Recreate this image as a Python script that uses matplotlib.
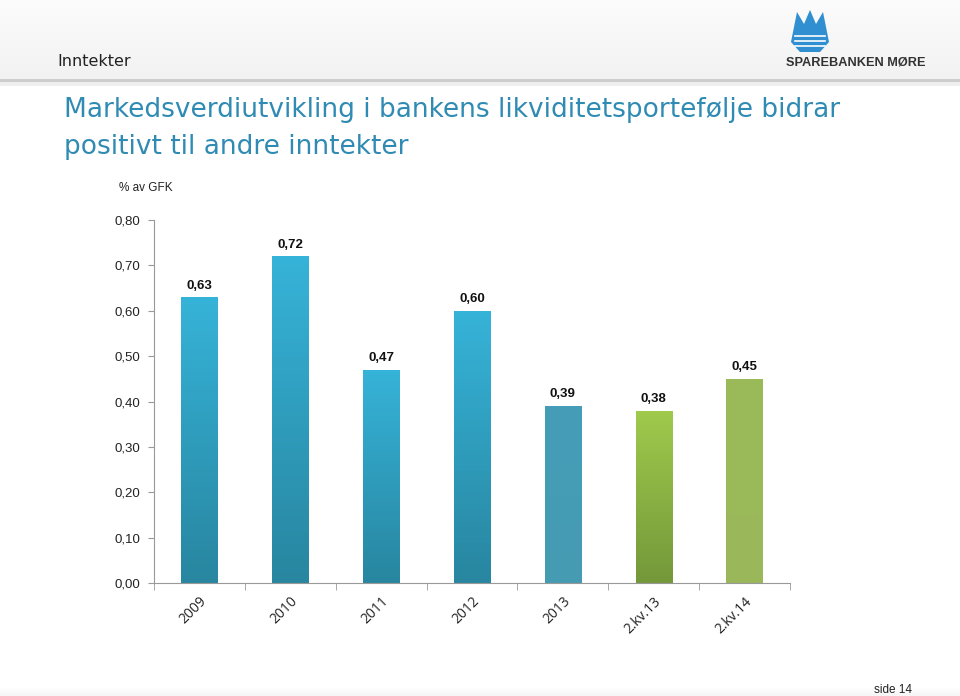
import numpy as np
import matplotlib
matplotlib.use("Agg")
import matplotlib.pyplot as plt
from matplotlib.patches import Polygon, Rectangle
from matplotlib.ticker import FixedLocator

# data
categories = ["2009", "2010", "2011", "2012", "2013", "2.kv.13", "2.kv.14"]
values = [0.63, 0.72, 0.47, 0.60, 0.39, 0.38, 0.45]
value_labels = ["0,63", "0,72", "0,47", "0,60", "0,39", "0,38", "0,45"]
ytick_values = [0.0, 0.1, 0.2, 0.3, 0.4, 0.5, 0.6, 0.7, 0.8]

# top / bottom colour of each bar's gradient
bar_top = ["#36b3d8", "#36b3d8", "#36b3d8", "#36b3d8", "#449db8", "#9fca4c", "#9bbb59"]
bar_bottom = ["#2886a0", "#2886a0", "#2886a0", "#2886a0", "#459bb2", "#74983a", "#9ab85a"]

plt.rcParams['font.family'] = ['Liberation Sans', 'DejaVu Sans']

W, H = 960, 696
fig = plt.figure(figsize=(W / 100, H / 100), dpi=100)
fig.patch.set_facecolor("white")

# header band with soft grey gradient
bg = fig.add_axes([0, 0, 1, 1], zorder=-10)
bg.set_xlim(0, W)
bg.set_ylim(H, 0)
bg.axis("off")
grad = np.linspace(0, 1, 80).reshape(-1, 1)
bg.imshow(grad, extent=(0, W, 80, 0), cmap=matplotlib.colors.LinearSegmentedColormap.from_list(
    "hdr", ["#fcfcfc", "#f2f2f2"]), aspect="auto")
bg.add_patch(Rectangle((0, 79), W, 3, color="#cdcdcd", lw=0))
bg.add_patch(Rectangle((0, 82), W, 4, color="#efefef", lw=0))
bg.imshow(np.linspace(0, 1, 10).reshape(-1, 1), extent=(0, W, 696, 686),
          cmap=matplotlib.colors.LinearSegmentedColormap.from_list("ftr", ["#ffffff", "#f6f6f6"]),
          aspect="auto")

fig.text(57 / W, 1 - 62 / H, "Inntekter", fontsize=11.5, color="#222222", va="center",
         family=['DejaVu Sans'])

# logo: simple mountain mark and bank name
logo = Polygon([(791, 42), (797, 12), (804, 24), (810, 10), (816, 24), (823, 12), (829, 42),
                (820, 52), (800, 52)], closed=True, color="#2f8fd0", lw=0)
bg.add_patch(logo)
for yy in (36, 41, 46):
    bg.plot([795, 825], [yy, yy], color="white", lw=1.2)
bg.text(856, 62, "SPAREBANKEN MØRE", fontsize=9.2, fontweight="bold", color="#333333",
        ha="center", va="center")

fig.text(64 / W, 1 - 110 / H, "Markedsverdiutvikling i bankens likviditetsportefølje bidrar",
         fontsize=19, color="#2f8bb3", va="center", family=['DejaVu Sans'])
fig.text(64 / W, 1 - 147 / H, "positivt til andre inntekter",
         fontsize=19, color="#2f8bb3", va="center", family=['DejaVu Sans'])
fig.text(119 / W, 1 - 188 / H, "% av GFK", fontsize=8.5, color="#222222", va="center")
fig.text(874 / W, 1 - 690 / H, "side 14", fontsize=8.5, color="#222222", va="center")

# chart
ax = fig.add_axes([154 / W, 1 - 583 / H, 636 / W, 363 / H])
ax.set_facecolor("none")
x = np.arange(len(categories))
bars = ax.bar(x, values, width=0.4, color="none", zorder=2)
for b, top, bot in zip(bars, bar_top, bar_bottom):
    cmap = matplotlib.colors.LinearSegmentedColormap.from_list("g", [bot, top])
    x0, y0 = b.get_x(), b.get_y()
    im = ax.imshow(np.linspace(0, 1, 100).reshape(-1, 1), origin="lower", cmap=cmap,
                   extent=(x0, x0 + b.get_width(), y0, y0 + b.get_height()),
                   aspect="auto", zorder=2)
    im.set_clip_path(b)

for xi, v, lab in zip(x, values, value_labels):
    ax.annotate(lab, (xi, v), xytext=(0, 4), textcoords="offset points", ha="center",
                va="bottom", fontsize=9.5, fontweight="bold", color="#111111")

ax.set_xlim(-0.5, len(categories) - 0.5)
ax.set_ylim(0, 0.8)
ax.set_yticks(ytick_values)
ax.set_yticklabels([f"{t:.2f}".replace(".", ",") for t in ytick_values], fontsize=9.5,
                   color="#222222")
ax.set_xticks(x)
ax.set_xticklabels(categories, rotation=45, ha="right", rotation_mode="anchor",
                   fontsize=10, color="#222222", family=['Open Sans', 'DejaVu Sans'])
ax.tick_params(axis="x", length=0, pad=8)
ax.xaxis.set_minor_locator(FixedLocator(np.arange(-0.5, len(categories), 1.0)))
ax.tick_params(axis="x", which="minor", length=5, color="#999999", direction="out")
ax.tick_params(axis="y", length=4, color="#999999", pad=6)

for s in ("top", "right"):
    ax.spines[s].set_visible(False)
for s in ("left", "bottom"):
    ax.spines[s].set_color("#999999")

fig.savefig("out.png", dpi=100)
